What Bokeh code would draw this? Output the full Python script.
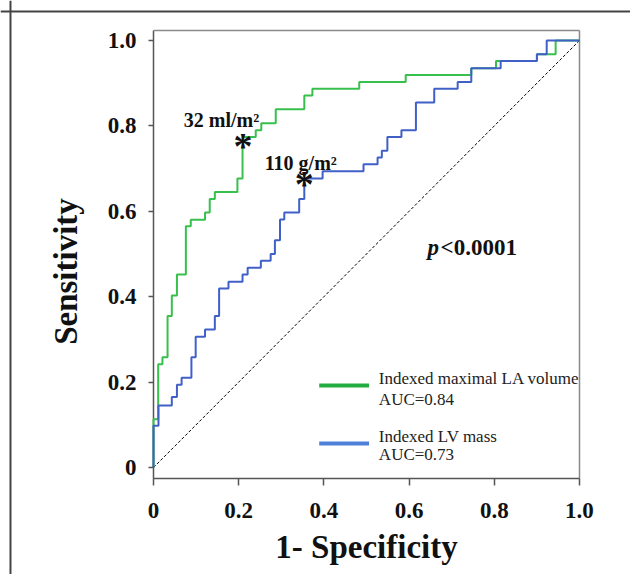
from bokeh.plotting import figure
from bokeh.models import Range1d, FixedTicker, Span
from bokeh.core.properties import value
from bokeh.embed import file_html
from bokeh.resources import INLINE

# ---- data ----
la_fpr = [0, 0, 0.011, 0.021, 0.033, 0.043, 0.055, 0.076, 0.0875, 0.121, 0.132, 0.144,
          0.197, 0.209, 0.240, 0.253, 0.287, 0.354, 0.373, 0.483, 0.592, 0.746, 0.804,
          0.900, 0.944, 1.0]
la_tpr = [0, 0.113, 0.242, 0.258, 0.355, 0.403, 0.452, 0.565, 0.580, 0.597, 0.629, 0.645,
          0.677, 0.774, 0.790, 0.806, 0.839, 0.871, 0.887, 0.903, 0.919, 0.935, 0.952,
          0.968, 1.0, 1.0]
lv_fpr = [0, 0, 0.0117, 0.043, 0.055, 0.066, 0.089, 0.099, 0.121, 0.144, 0.154, 0.176,
          0.209, 0.221, 0.252, 0.275, 0.285, 0.297, 0.307, 0.342, 0.354, 0.397, 0.493,
          0.526, 0.536, 0.549, 0.582, 0.616, 0.659, 0.714, 0.746, 0.815, 0.900, 0.923, 1.0]
lv_tpr = [0, 0.098, 0.145, 0.165, 0.194, 0.210, 0.258, 0.306, 0.323, 0.355, 0.419, 0.435,
          0.452, 0.468, 0.484, 0.500, 0.532, 0.581, 0.597, 0.629, 0.677, 0.694, 0.710,
          0.726, 0.742, 0.774, 0.790, 0.855, 0.887, 0.903, 0.935, 0.952, 0.968, 1.0, 1.0]
chance = [0, 1]
cut_x = [0.21, 0.354]
cut_y = [0.761, 0.672]
cut_labels = ["32 ml/m\u00b2", "110 g/m\u00b2"]
ticks = [0, 0.2, 0.4, 0.6, 0.8, 1.0]
tick_labels = ["0", "0.2", "0.4", "0.6", "0.8", "1.0"]
series_names = ["Indexed maximal LA volume", "Indexed LV mass"]
auc_labels = ["AUC=0.84", "AUC=0.73"]

GREEN = "#38c04c"
BLUE = "#4060c8"
LEG_GREEN = "#22ad40"
LEG_BLUE = "#4f80d8"
SERIF = "Liberation Serif"
AXIS_GREY = "#555555"

# plotting box limits (data space) of the inner chart
X0, X1 = 0.0, 1.0
Y0, Y1 = -0.0258, 1.0234

# the frame covers the whole canvas; the chart's axes sit at fixed data locations
p = figure(width=630, height=574, output_backend="svg", toolbar_location=None,
           x_range=Range1d(-0.35915, 1.11972), y_range=Range1d(-0.25059, 1.09368),
           min_border_left=0, min_border_right=0, min_border_top=0, min_border_bottom=0)
p.grid.visible = False
p.outline_line_color = None

for ax in (p.xaxis[0], p.yaxis[0]):
    ax.ticker = FixedTicker(ticks=ticks)
    ax.major_label_overrides = {t: l for t, l in zip(ticks, tick_labels)}
    ax.minor_tick_line_color = None
    ax.axis_line_color = AXIS_GREY
    ax.axis_line_width = 1.5
    ax.major_tick_line_color = AXIS_GREY
    ax.major_tick_line_width = 1.5
    ax.major_tick_in = 0
    ax.major_label_text_font = SERIF
    ax.major_label_text_font_style = "bold"
    ax.major_label_text_font_size = "23px"
    ax.major_label_text_color = "#111111"
    ax.axis_label_text_font = SERIF
    ax.axis_label_text_font_style = "bold"
    ax.axis_label_text_font_size = "33px"
    ax.axis_label_text_color = "#111111"

p.xaxis.fixed_location = Y0
p.xaxis.bounds = (X0, X1)
p.yaxis.fixed_location = X0
# the y label sits a little below the middle of the axis: widen the bounds downward
# and draw the visible axis line separately
p.yaxis.bounds = (Y0 - 0.08, Y1)
p.yaxis.axis_line_color = None
p.xaxis.major_tick_out = 7
p.yaxis.major_tick_out = 5
p.xaxis.major_label_standoff = 17
p.yaxis.major_label_standoff = 12
p.xaxis.axis_label = "1- Specificity"
p.yaxis.axis_label = "Sensitivity"
p.xaxis.axis_label_standoff = 8
p.yaxis.axis_label_standoff = 21

# left axis line, right and top edges of the chart box
p.line([X0, X0], [Y0, Y1], line_color=AXIS_GREY, line_width=1.5)
p.line([X1, X1], [Y0, Y1], line_color="#8a8a8a", line_width=1.5)
p.line([X0, X1], [Y1, Y1], line_color="#8a8a8a", line_width=1.5)

# outer panel frame (left and top edges; the others lie outside the picture)
p.add_layout(Span(location=-0.3357, dimension="height", line_color="#444444", line_width=2))
p.add_layout(Span(location=1.0679, dimension="width", line_color="#444444", line_width=2))

# chance line
p.line(chance, chance, line_color="black", line_width=1, line_dash="3 2")

# ROC curves
p.step(la_fpr, la_tpr, mode="after", line_color=GREEN, line_width=2)
p.step(lv_fpr, lv_tpr, mode="after", line_color=BLUE, line_width=2)

# cut-off markers
p.text(cut_x, cut_y, text=["*", "*"], text_font=value(SERIF), text_font_style="bold",
       text_font_size="38px", text_align="center", text_baseline="middle",
       y_offset=3, text_color="#111111")
p.text([0.071, 0.261], [0.813, 0.712], text=cut_labels, text_font=value(SERIF),
       text_font_style="bold", text_font_size="20px", text_align="left",
       text_baseline="alphabetic", text_color="#111111")

# p value
p.text([0.643], [0.515], text=["p"], text_font=value(SERIF), text_font_style="bold italic",
       text_font_size="23px", text_align="left", text_baseline="middle", text_color="#111111")
p.text([0.674], [0.515], text=["<0.0001"], text_font=value(SERIF), text_font_style="bold",
       text_font_size="23px", text_align="left", text_baseline="middle", text_color="#111111")

# legend (drawn manually)
p.line([0.389, 0.506], [0.192, 0.192], line_color=LEG_GREEN, line_width=4)
p.line([0.389, 0.506], [0.056, 0.056], line_color=LEG_BLUE, line_width=4)
p.text([0.529, 0.529], [0.208, 0.159], text=[series_names[0], auc_labels[0]],
       text_font=value(SERIF), text_font_size="17px", text_align="left",
       text_baseline="middle", text_color="#222222")
p.text([0.529, 0.529], [0.073, 0.030], text=[series_names[1], auc_labels[1]],
       text_font=value(SERIF), text_font_size="17px", text_align="left",
       text_baseline="middle", text_color="#222222")

open("out.html", "w").write(file_html(p, INLINE))
